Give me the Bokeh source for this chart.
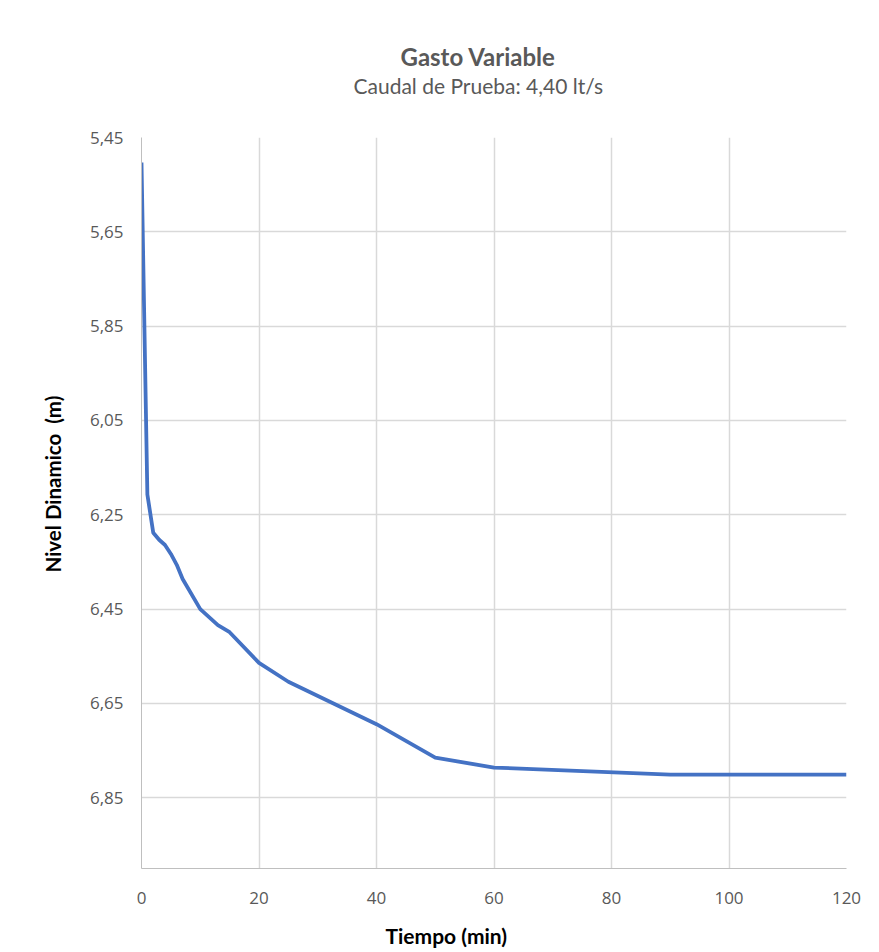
from bokeh.plotting import figure
from bokeh.models import Range1d, FixedTicker, CustomJSTickFormatter, Title, ColumnDataSource
from bokeh.embed import file_html
from bokeh.resources import INLINE

# Data
tiempo_min = [0, 1, 2, 3, 4, 5, 6, 7, 10, 13, 15, 20, 25, 40, 50, 60, 90, 120]
nivel_m = [5.503, 6.207, 6.288, 6.303, 6.314, 6.333, 6.356, 6.386, 6.450, 6.484,
           6.499, 6.564, 6.604, 6.694, 6.765, 6.786, 6.801, 6.801]

y_ticks = [5.45, 5.65, 5.85, 6.05, 6.25, 6.45, 6.65, 6.85]
x_ticks = [0, 20, 40, 60, 80, 100, 120]

title_text = "Gasto Variable"
subtitle_text = "Caudal de Prueba: 4,40 lt/s"
x_title = "Tiempo (min)"
y_title = "Nivel Dinamico\u00a0 (m)"

TXT = "#595959"
GRID = "#d9d9d9"
FONT = "Lato"

p = figure(width=879, height=952, output_backend="svg", toolbar_location=None,
           x_range=Range1d(0, 120), y_range=Range1d(7.0, 5.45),
           min_border_left=141, min_border_right=33, min_border_top=137, min_border_bottom=84)
p.outline_line_color = None
p.background_fill_color = "white"
p.border_fill_color = "white"

src = ColumnDataSource(dict(t=tiempo_min, n=nivel_m))
p.line("t", "n", source=src, line_color="#4472C4", line_width=3.8, line_join="round")

p.xaxis.ticker = FixedTicker(ticks=x_ticks)
p.yaxis.ticker = FixedTicker(ticks=y_ticks)
p.xgrid.ticker = FixedTicker(ticks=x_ticks)
p.ygrid.ticker = FixedTicker(ticks=y_ticks)
p.xaxis.formatter = CustomJSTickFormatter(code="return tick.toFixed(0);")
p.yaxis.formatter = CustomJSTickFormatter(code="return tick.toFixed(2).replace('.', ',');")

for ax in (p.xaxis[0], p.yaxis[0]):
    ax.axis_line_color = "#bfbfbf"
    ax.axis_line_width = 1
    ax.major_tick_line_color = None
    ax.minor_tick_line_color = None
    ax.major_label_text_color = TXT
    ax.major_label_text_font = "Open Sans"
    ax.major_label_text_font_size = "17px"
p.yaxis.major_label_standoff = 12
p.xaxis.major_label_standoff = 17
# small invisible spacer below the x tick labels
p.xaxis.axis_label = " "
p.xaxis.axis_label_text_font_size = "1px"
p.xaxis.axis_label_standoff = 5

p.xgrid.grid_line_color = GRID
p.ygrid.grid_line_color = GRID
p.xgrid.grid_line_width = 1.5
p.ygrid.grid_line_width = 1.5

# Titles: first added sits closest to the frame
subtitle = Title(text=subtitle_text, align="left", offset=212, text_font=FONT,
                 text_font_size="21px", text_font_style="normal", text_color=TXT)
main_title = Title(text=title_text, align="left", offset=259, text_font=FONT,
                   text_font_size="24px", text_font_style="bold", text_color=TXT)
if "standoff" in Title.properties():
    subtitle.standoff = 0
    main_title.standoff = 0
p.add_layout(Title(text=" ", text_font_size="25px"), "above")
p.add_layout(subtitle, "above")
p.add_layout(main_title, "above")

p.add_layout(Title(text=x_title, align="left", offset=244, text_font=FONT,
                   text_font_size="21px", text_font_style="bold", text_color="black"), "below")
p.add_layout(Title(text=" ", text_font_size="4px"), "left")
p.add_layout(Title(text=y_title, align="left", offset=296, text_font=FONT,
                   text_font_size="20.5px", text_font_style="bold", text_color="black"), "left")

open("out.html", "w").write(file_html(p, INLINE))
